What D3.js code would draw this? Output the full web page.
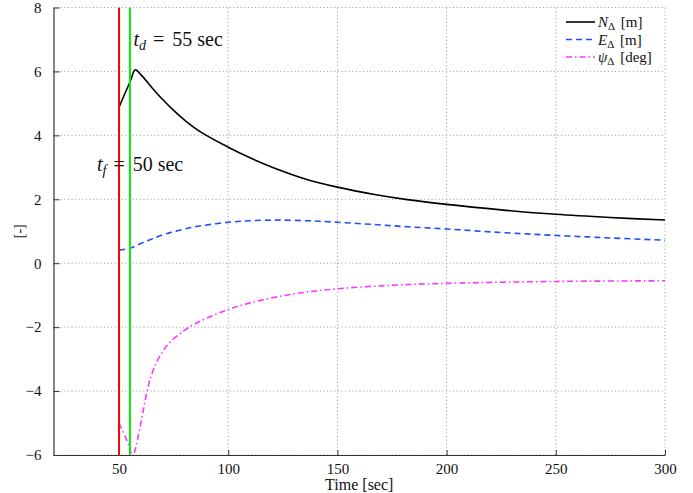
<!DOCTYPE html>
<html lang="en">
<head>
<meta charset="UTF-8">
<title>Position and heading deltas</title>
<style>
  body { margin: 0; background: #fff; }
  svg { display: block; font-family: "Liberation Serif", "Times New Roman", "DejaVu Serif", serif; }
</style>
</head>
<body>
<svg id="chart" width="693" height="493"></svg>
<script src="https://d3js.org/d3.v7.min.js"></script>
<script>
// values
const nTime = [50, 55, 57.5, 60, 65, 70, 75, 80, 87.5, 100, 110, 121, 136, 150, 167, 182, 200, 225, 250, 275, 300];
const nDelta = [4.88, 5.67, 6.05, 5.9, 5.5, 5.12, 4.78, 4.48, 4.1, 3.63, 3.3, 2.98, 2.62, 2.38, 2.15, 1.99, 1.84, 1.67, 1.53, 1.43, 1.35];

const eTime = [50, 55, 60, 65, 72, 80, 87.5, 100, 110, 121, 136, 150, 167, 182, 200, 225, 250, 275, 300];
const eDelta = [0.41, 0.47, 0.62, 0.76, 0.93, 1.07, 1.17, 1.28, 1.33, 1.35, 1.33, 1.28, 1.21, 1.14, 1.07, 0.96, 0.87, 0.79, 0.72];

const psiTime = [50, 53, 55, 56, 57, 60, 62.3, 64.6, 67.7, 72.2, 80, 87.5, 100, 110, 130, 150, 175, 200, 250, 300];
const psiDelta = [-5.0, -5.45, -5.8, -6.05, -5.92, -5.0, -4.18, -3.55, -3.03, -2.56, -2.1, -1.8, -1.45, -1.24, -0.96, -0.8, -0.69, -0.63, -0.57, -0.55];

const xTicks = [50, 100, 150, 200, 250, 300];
const yTicks = [-6, -4, -2, 0, 2, 4, 6, 8];
const tFault = 50;
const tDetect = 55;

const serif = "'Liberation Serif', 'Times New Roman', 'DejaVu Serif', serif";
const svg = d3.select("#chart");
const margin = { left: 53.5, right: 28, top: 7.5, bottom: 38 };
const width = 693, height = 493;

const x = d3.scaleLinear().domain([20, 300]).range([margin.left, width - margin.right]);
const y = d3.scaleLinear().domain([-6, 8]).range([height - margin.bottom, margin.top]);

svg.append("defs").append("clipPath").attr("id", "plot-clip")
  .append("rect")
  .attr("x", x(20)).attr("y", y(8))
  .attr("width", x(300) - x(20)).attr("height", y(-6) - y(8));

// dotted grid
const grid = svg.append("g").attr("stroke", "#8a8a8a").attr("stroke-width", 0.9).attr("stroke-dasharray", "1,2.6");
grid.selectAll(".gx").data(xTicks).enter().append("line")
  .attr("x1", d => x(d)).attr("x2", d => x(d))
  .attr("y1", y(-6)).attr("y2", y(8));
grid.selectAll(".gy").data(yTicks).enter().append("line")
  .attr("x1", x(20)).attr("x2", x(300))
  .attr("y1", d => y(d)).attr("y2", d => y(d));

// axes: MATLAB style, ticks pointing inward
const xAxis = d3.axisBottom(x).tickValues(xTicks).tickSizeInner(-5).tickSizeOuter(0).tickPadding(8);
const yAxis = d3.axisLeft(y).tickValues(yTicks).tickSizeInner(-6).tickSizeOuter(0).tickPadding(12)
  .tickFormat(d => d < 0 ? "\u2212" + Math.abs(d) : d);

const gx = svg.append("g").attr("transform", `translate(0,${y(-6)})`).call(xAxis);
const gy = svg.append("g").attr("transform", `translate(${x(20)},0)`).call(yAxis);
[gx, gy].forEach(g => {
  g.attr("font-family", serif);
  g.select(".domain").attr("stroke", "#333").attr("stroke-width", 1.2);
  g.selectAll(".tick line").attr("stroke", "#333");
  g.selectAll("text").attr("font-family", serif).attr("font-size", 15).attr("fill", "#111");
});

// curves
const plot = svg.append("g").attr("clip-path", "url(#plot-clip)");
const line = d3.line().x(d => x(d[0])).y(d => y(d[1])).curve(d3.curveCatmullRom.alpha(0.5));

const series = [
  { t: nTime, v: nDelta, color: "#000", dash: null },
  { t: eTime, v: eDelta, color: "#1f4dff", dash: "6,4" },
  { t: psiTime, v: psiDelta, color: "#ff33ff", dash: "6,3,1.5,3" }
];
series.forEach(s => {
  plot.append("path")
    .datum(d3.zip(s.t, s.v))
    .attr("d", line)
    .attr("fill", "none")
    .attr("stroke", s.color)
    .attr("stroke-width", 1.6)
    .attr("stroke-dasharray", s.dash);
});

// fault / detection markers
plot.selectAll(".vline")
  .data([{ t: tFault, color: "#ff0000" }, { t: tDetect, color: "#00ee00" }])
  .enter().append("line")
  .attr("x1", d => x(d.t)).attr("x2", d => x(d.t))
  .attr("y1", y(8)).attr("y2", y(-6))
  .attr("stroke", d => d.color)
  .attr("stroke-width", 2);

// annotations
function mathLabel(tx, ty, sub, rest) {
  const t = svg.append("text")
    .attr("x", x(tx)).attr("y", y(ty))
    .attr("font-family", serif)
    .attr("font-size", 20).attr("fill", "#111");
  t.append("tspan").attr("font-style", "italic").text("t");
  t.append("tspan").attr("font-style", "italic").attr("font-size", 14).attr("dy", 4).text(sub);
  t.append("tspan").attr("dy", -4).attr("dx", 7).text("=");
  t.append("tspan").attr("dx", 8).text(rest);
}
mathLabel(56.6, 6.8, "d", "55 sec");
mathLabel(39.9, 2.9, "f", "50 sec");

// axis labels
svg.append("text")
  .attr("x", (x(20) + x(300)) / 2).attr("y", 490)
  .attr("text-anchor", "middle").attr("font-family", serif)
  .attr("font-size", 16).attr("fill", "#111")
  .text("Time [sec]");
svg.append("text")
  .attr("transform", `translate(24,${(y(-6) + y(8)) / 2}) rotate(-90)`)
  .attr("text-anchor", "middle").attr("font-family", serif)
  .attr("font-size", 14).attr("fill", "#111")
  .text("[-]");

// legend
const legendItems = [
  { sym: "N", sub: "\u0394", unit: " [m]", color: "#000", dash: null },
  { sym: "E", sub: "\u0394", unit: " [m]", color: "#1f4dff", dash: "6,4" },
  { sym: "\u03c8", sub: "\u0394", unit: " [deg]", color: "#ff33ff", dash: "6,3,1.5,3" }
];
const legend = svg.append("g").attr("transform", "translate(566,22)");
legendItems.forEach((d, i) => {
  const row = legend.append("g").attr("transform", `translate(0,${i * 17.5})`);
  row.append("line").attr("x1", 0).attr("x2", 29).attr("y1", 0).attr("y2", 0)
    .attr("stroke", d.color).attr("stroke-width", 1.6).attr("stroke-dasharray", d.dash);
  const t = row.append("text").attr("x", 32).attr("y", 5)
    .attr("font-family", serif).attr("font-size", 15).attr("fill", "#111");
  t.append("tspan").attr("font-style", "italic").text(d.sym);
  t.append("tspan").attr("font-size", 11).attr("dy", 3).text(d.sub);
  t.append("tspan").attr("dy", -3).attr("dx", 2).text(d.unit);
});
</script>
</body>
</html>
